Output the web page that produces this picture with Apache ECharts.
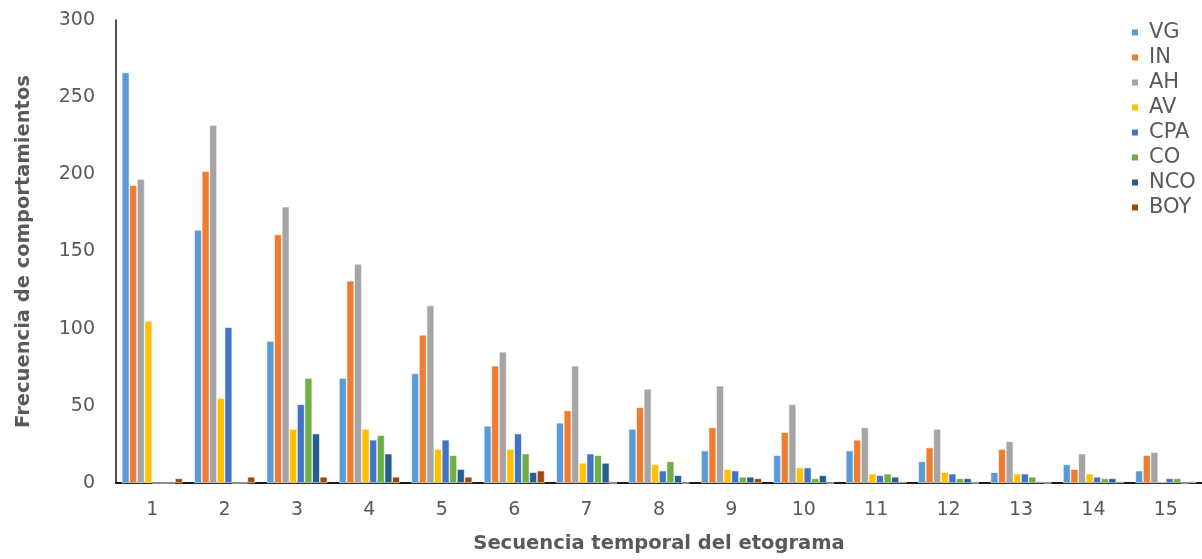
<!DOCTYPE html>
<html>
<head>
<meta charset="utf-8">
<script src="https://cdn.jsdelivr.net/npm/echarts@6/dist/echarts.min.js"></script>
<style>
  html, body { margin: 0; padding: 0; background: #fff; }
  #main { width: 1202px; height: 559px; }
</style>
</head>
<body>
<div id="main"></div>
<script>
// categorias del eje x
const secuencias = ['1', '2', '3', '4', '5', '6', '7', '8', '9', '10', '11', '12', '13', '14', '15']

// frecuencias por comportamiento
const VG = [266, 164, 92, 68, 71, 37, 39, 35, 21, 18, 21, 14, 7, 12, 8]
const IN = [193, 202, 161, 131, 96, 76, 47, 49, 36, 33, 28, 23, 22, 9, 18]
const AH = [197, 232, 179, 142, 115, 85, 76, 61, 63, 51, 36, 35, 27, 19, 20]
const AV = [105, 55, 35, 35, 22, 22, 13, 12, 9, 10, 6, 7, 6, 6, 1]
const CPA = [0, 101, 51, 28, 28, 32, 19, 8, 8, 10, 5, 6, 6, 4, 3]
const CO = [0, 0, 68, 31, 18, 19, 18, 14, 4, 3, 6, 3, 4, 3, 3]
const NCO = [0, 0, 32, 19, 9, 7, 13, 5, 4, 5, 4, 3, 1, 3, 0]
const BOY = [3, 4, 4, 4, 4, 8, 0, 0, 3, 0, 1, 0, 0, 1, 1]

const nombres = ['VG', 'IN', 'AH', 'AV', 'CPA', 'CO', 'NCO', 'BOY']
const datos = [VG, IN, AH, AV, CPA, CO, NCO, BOY]
const colores = ['#5B9BD5', '#ED7D31', '#A5A5A5', '#FFC000', '#4472C4', '#70AD47', '#255E91', '#9E480E']

const fuente = 'DejaVu Sans'
const gris = '#595959'

const chart = echarts.init(document.getElementById('main'))

const option = {
  backgroundColor: '#ffffff',
  animation: false,
  color: colores,
  grid: {
    left: 116,
    right: 0,
    top: 20,
    bottom: 75
  },
  legend: {
    orient: 'vertical',
    left: 1125,
    top: 17,
    itemWidth: 8,
    itemHeight: 8,
    itemGap: 4,
    icon: 'rect',
    textStyle: {
      color: gris,
      fontFamily: fuente,
      fontSize: 21,
      padding: [0, 0, 0, 5]
    },
    data: nombres
  },
  xAxis: {
    type: 'category',
    data: secuencias,
    name: 'Secuencia temporal del etograma',
    nameLocation: 'middle',
    nameGap: 51,
    nameTextStyle: {
      color: gris,
      fontFamily: fuente,
      fontWeight: 'bold',
      fontSize: 19.5
    },
    axisLine: { lineStyle: { color: '#1a1a1a', width: 2 } },
    axisTick: { show: false },
    axisLabel: {
      color: gris,
      fontFamily: fuente,
      fontSize: 19,
      margin: 18
    }
  },
  yAxis: {
    type: 'value',
    min: 0,
    max: 300,
    interval: 50,
    name: 'Frecuencia de comportamientos',
    nameLocation: 'middle',
    nameGap: 82,
    nameTextStyle: {
      color: gris,
      fontFamily: fuente,
      fontWeight: 'bold',
      fontSize: 19.5
    },
    axisLine: { show: true, lineStyle: { color: '#1a1a1a', width: 1.5 } },
    axisTick: { show: false },
    splitLine: { show: false },
    axisLabel: {
      color: gris,
      fontFamily: fuente,
      fontSize: 19,
      margin: 21
    }
  },
  series: nombres.map((n, i) => ({
    name: n,
    type: 'bar',
    data: datos[i],
    barGap: '0%',
    barCategoryGap: '16%',
    itemStyle: {
      borderColor: '#ffffff',
      borderWidth: 0.6
    }
  }))
}

chart.setOption(option)
</script>
</body>
</html>
